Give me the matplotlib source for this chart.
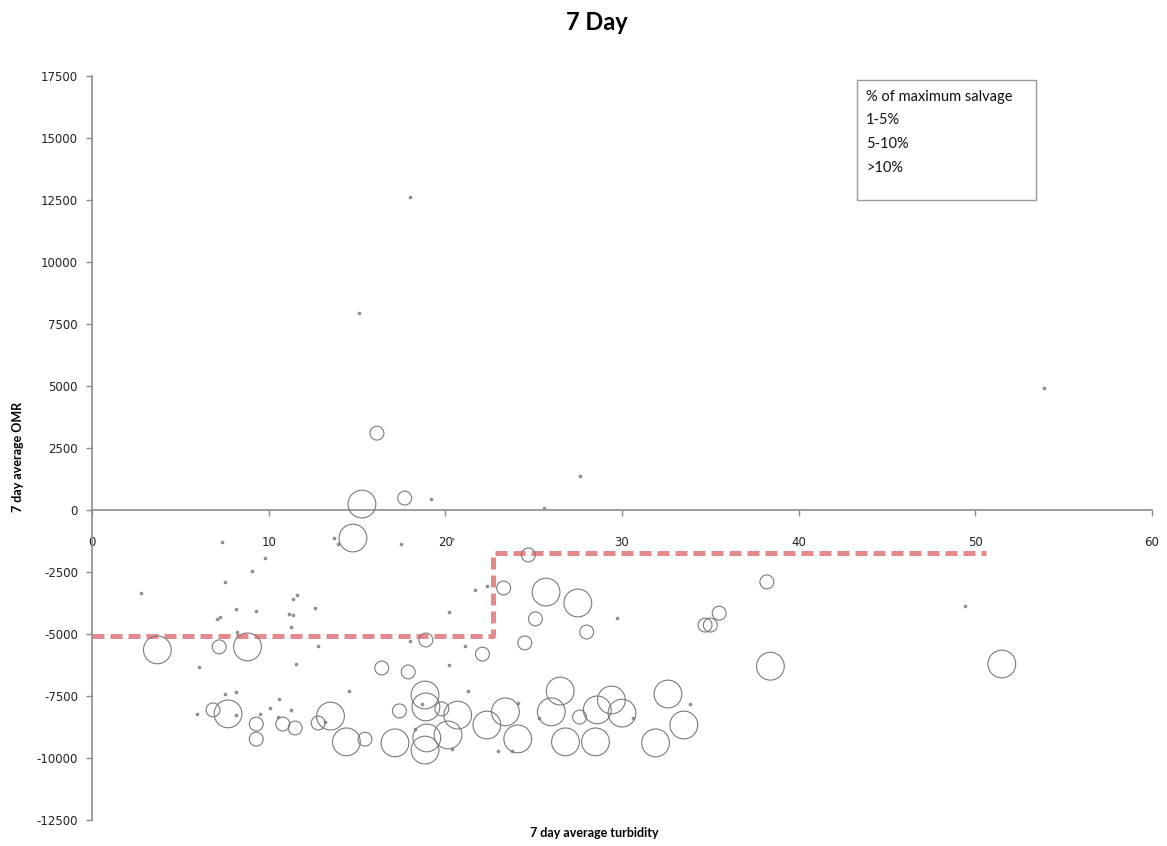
import numpy as np
import matplotlib
matplotlib.use('Agg')
from matplotlib import pyplot as plt
from matplotlib.patches import Rectangle

plt.rcParams['axes.unicode_minus'] = False

# 1-5% of maximum salvage (tiny dots)
dots_x = [18.0, 15.1, 19.2, 25.6, 27.6, 53.9, 49.4, 29.7,
          7.35, 9.8, 9.05, 7.5, 2.8, 11.4, 11.6, 8.15, 9.3, 11.15, 11.4, 7.1, 7.25, 11.25, 8.2, 11.55, 6.05,
          13.7, 13.9, 17.5, 20.4, 21.7, 22.35, 12.6, 20.2, 12.8, 18.0, 21.1, 20.2,
          7.5, 8.15, 5.95, 8.15, 10.6, 10.1, 11.25, 10.5, 9.5,
          14.55, 21.3, 18.3, 18.7, 20.4, 23.0, 23.8, 24.1, 13.2,
          33.85, 25.3, 30.6]
dots_y = [12620, 7940, 440, 80, 1370, 4920, -3870, -4350,
          -1290, -1930, -2460, -2900, -3350, -3590, -3430, -3990, -4070, -4190, -4230, -4400, -4310, -4720, -4920, -6210, -6330,
          -1130, -1370, -1370, -1170, -3230, -3060, -3950, -4110, -5480, -5280, -5480, -6250,
          -7420, -7340, -8220, -8270, -7620, -7980, -8060, -8350, -8220,
          -7300, -7300, -8830, -7820, -9640, -9720, -9720, -7780, -8550,
          -7820, -8390, -8390]

# 5-10% (small circles)
small_x = [16.13, 17.7, 23.3, 24.7, 25.1, 28.0, 24.5, 22.1, 34.7, 35.0, 35.5, 38.2,
           7.2, 16.4, 17.9, 18.9,
           6.85, 9.3, 9.3, 10.8, 11.5, 12.8, 15.45, 17.4, 19.8, 27.6]
small_y = [3100, 480, -3145, -1810, -4390, -4920, -5360, -5810, -4640, -4640, -4160, -2900,
           -5520, -6370, -6530, -5240,
           -8060, -8630, -9240, -8630, -8790, -8590, -9240, -8100, -8020, -8350]

# >10% (large circles)
large_x = [15.28, 14.77, 25.7, 27.5, 38.4, 51.5, 3.7, 8.8,
           7.7, 13.5, 14.4, 17.15, 18.85, 18.9, 20.7, 18.95, 18.85, 20.15, 22.35, 23.4, 24.1,
           26.5, 26.0, 28.6, 29.4, 30.0, 32.6, 33.5, 31.9, 28.5, 26.8]
large_y = [240, -1130, -3310, -3750, -6300, -6210, -5640, -5520,
           -8220, -8310, -9350, -9390, -7460, -7940, -8270, -9190, -9680, -9070, -8670, -8140, -9230,
           -7300, -8140, -8060, -7660, -8190, -7420, -8670, -9390, -9350, -9350]

# threshold step line
step_x = [0, 22.7, 22.7, 50.6]
step_y = [-5100, -5100, -1750, -1750]

legend_title = '% of maximum salvage'
legend_labels = ['1-5%', '5-10%', '>10%']

fig = plt.figure(figsize=(11.67, 8.46), dpi=100)
ax = fig.add_axes([92/1167, 1 - 820/846, (1152 - 92)/1167, (820 - 76)/846])

ax.scatter(dots_x, dots_y, s=7, color='#909090', linewidths=0, zorder=3)
ax.scatter(small_x, small_y, s=100, facecolors='none', edgecolors='#7a7a7a', linewidths=0.8, zorder=3)
ax.scatter(large_x, large_y, s=400, facecolors='none', edgecolors='#7a7a7a', linewidths=0.8, zorder=3)

ax.plot(step_x, step_y, color='#e58a8c', lw=3.6, dashes=(2.4, 1.2), solid_capstyle='butt', zorder=2)

ax.set_xlim(0, 60)
ax.set_ylim(-12500, 17500)
ax.set_xticks(np.arange(0, 61, 10))
ax.set_yticks(np.arange(-12500, 17501, 2500))
ax.spines['top'].set_visible(False)
ax.spines['right'].set_visible(False)
ax.spines['bottom'].set_position(('data', 0))
for s in ['left', 'bottom']:
    ax.spines[s].set_color('#8c8c8c')
    ax.spines[s].set_linewidth(1.2)
ax.tick_params(axis='both', colors='#8c8c8c', labelcolor='#222222', labelsize=8.5, length=4, width=1)
ax.tick_params(axis='x', pad=15)
ax.tick_params(axis='y', pad=6)

fig.text(597/1167, 1 - 22/846, '7 Day', ha='center', va='center', fontsize=17,
         fontweight='bold', family='Lato')
fig.text(594/1167, 1 - 833/846, '7 day average turbidity', ha='center', va='center',
         fontsize=9, fontweight='bold', family='Lato')
fig.text(18/1167, 1 - 457/846, '7 day average OMR', ha='center', va='center', rotation=90,
         fontsize=9, fontweight='bold', family='Lato')

# legend box
fig.patches.append(Rectangle((857/1167, 1 - 200/846), (1036 - 857)/1167, (200 - 80)/846,
                             transform=fig.transFigure, facecolor='white', edgecolor='#9a9a9a', lw=1))
for i, t in enumerate([legend_title] + legend_labels):
    fig.text(866/1167, 1 - (97 + 23.5*i)/846, t, ha='left', va='center', fontsize=10.5,
             family='Lato', color='#111111')

fig.savefig('out.png', dpi=100)
